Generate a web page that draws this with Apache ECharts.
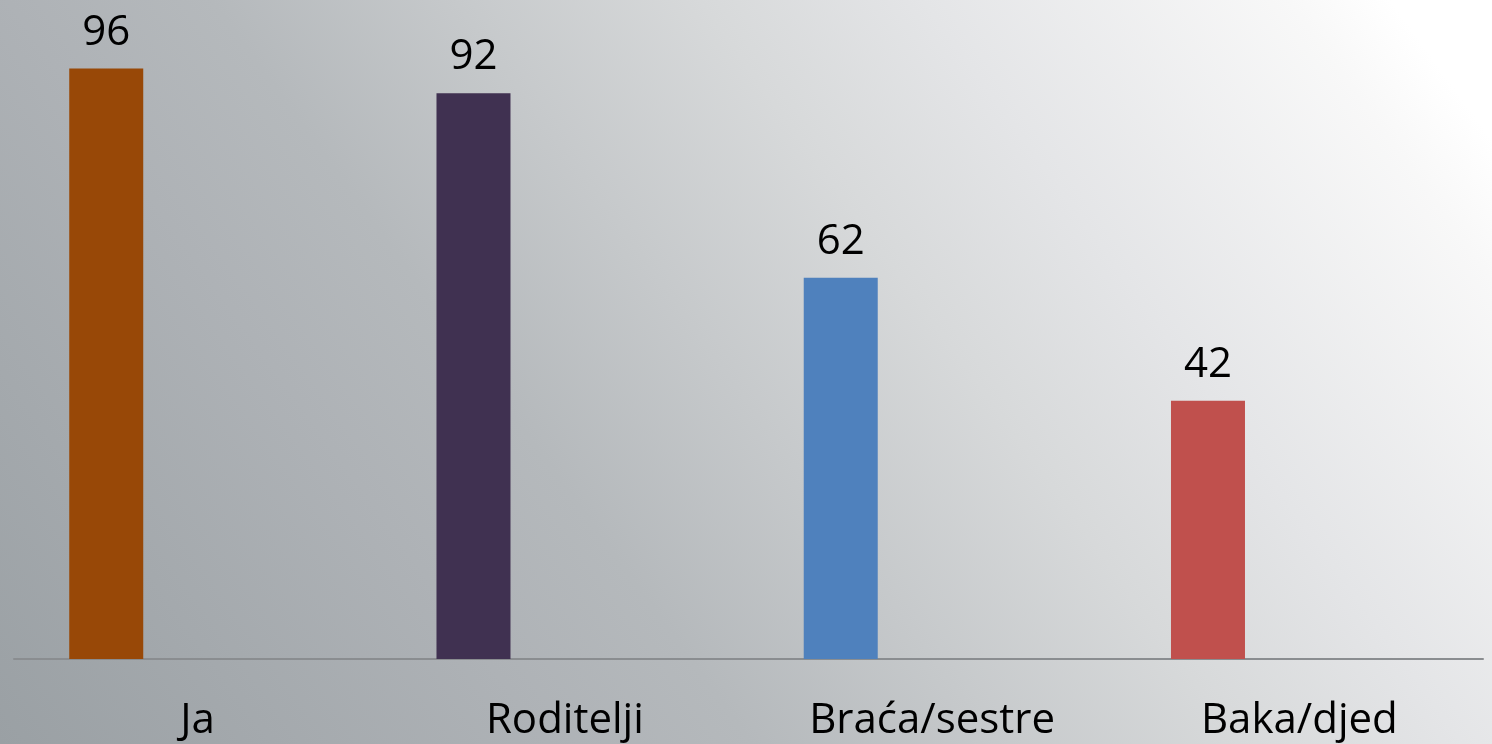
<!DOCTYPE html>
<html>
<head>
<meta charset="utf-8">
<script src="https://cdn.jsdelivr.net/npm/echarts@6/dist/echarts.min.js"></script>
<style>
html,body{margin:0;padding:0;}
#c{width:1492px;height:744px;background:linear-gradient(54deg,#9aa0a4 0%,#aeb2b6 27%,#b5b9bc 37%,#d7d9da 61%,#e4e5e7 72%,#f8f8f8 90%,#ffffff 95%);}
</style>
</head>
<body>
<div id="c"></div>
<script>
const categories = ['Ja', 'Roditelji', 'Braća/sestre', 'Baka/djed'];
const values = [96, 92, 62, 42];
const barColors = ['#984807', '#403151', '#4f81bd', '#c0504d'];

const chart = echarts.init(document.getElementById('c'), null, {renderer: 'canvas'});
const font = '"Open Sans", sans-serif';
chart.setOption({
  backgroundColor: 'transparent',
  animation: false,
  grid: {left: 14, right: 9, top: 44, bottom: 85, containLabel: false},
  xAxis: {
    type: 'category',
    data: categories,
    axisLine: {show: true, lineStyle: {color: '#8a8d90', width: 2}},
    axisTick: {show: false},
    axisLabel: {fontFamily: font, fontSize: 42, color: '#000', margin: 41}
  },
  yAxis: {type: 'value', min: 0, max: 100, show: false, splitLine: {show: false}},
  series: [
    {
      type: 'bar',
      barWidth: 74,
      barGap: '147%',
      data: values.map((v, i) => ({value: v, itemStyle: {color: barColors[i]}})),
      label: {show: true, position: 'top', distance: 15, fontFamily: font, fontSize: 42, color: '#000'}
    },
    {
      type: 'bar',
      barWidth: 74,
      data: values.map(() => null)
    }
  ]
});
</script>
</body>
</html>
